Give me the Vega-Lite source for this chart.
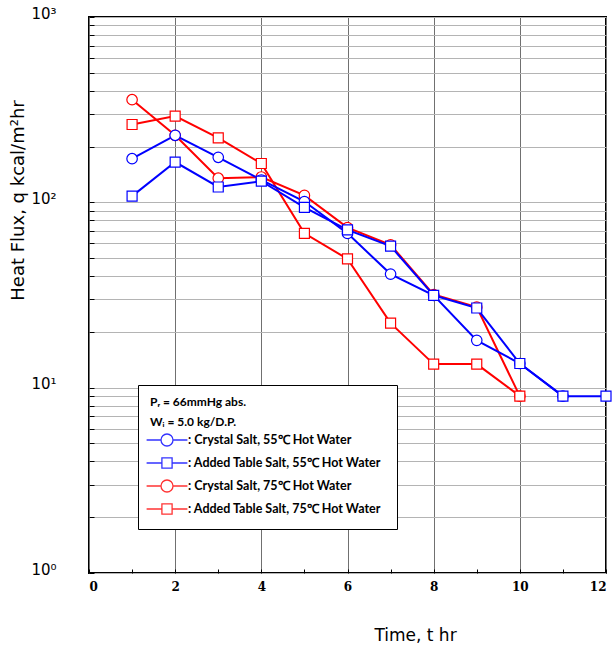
{
  "$schema": "https://vega.github.io/schema/vega-lite/v6.json",
  "width": 517,
  "height": 556,
  "autosize": {"type": "none"},
  "padding": {"left": 89, "top": 17, "right": 8, "bottom": 73},
  "background": "white",
  "config": {"view": {"stroke": "black", "strokeWidth": 2}, "font": "DejaVu Sans"},
  "data": {"values": [
    {"t": 1, "q": 358, "series": "Crystal Salt, 75℃ Hot Water"},
    {"t": 2, "q": 230, "series": "Crystal Salt, 75℃ Hot Water"},
    {"t": 3, "q": 135, "series": "Crystal Salt, 75℃ Hot Water"},
    {"t": 4, "q": 137, "series": "Crystal Salt, 75℃ Hot Water"},
    {"t": 5, "q": 109, "series": "Crystal Salt, 75℃ Hot Water"},
    {"t": 6, "q": 73, "series": "Crystal Salt, 75℃ Hot Water"},
    {"t": 7, "q": 59, "series": "Crystal Salt, 75℃ Hot Water"},
    {"t": 8, "q": 31.8, "series": "Crystal Salt, 75℃ Hot Water"},
    {"t": 9, "q": 27.2, "series": "Crystal Salt, 75℃ Hot Water"},
    {"t": 10, "q": 9, "series": "Crystal Salt, 75℃ Hot Water"},
    {"t": 1, "q": 263, "series": "Added Table Salt, 75℃ Hot Water"},
    {"t": 2, "q": 292, "series": "Added Table Salt, 75℃ Hot Water"},
    {"t": 3, "q": 223, "series": "Added Table Salt, 75℃ Hot Water"},
    {"t": 4, "q": 162, "series": "Added Table Salt, 75℃ Hot Water"},
    {"t": 5, "q": 68, "series": "Added Table Salt, 75℃ Hot Water"},
    {"t": 6, "q": 49.5, "series": "Added Table Salt, 75℃ Hot Water"},
    {"t": 7, "q": 22.3, "series": "Added Table Salt, 75℃ Hot Water"},
    {"t": 8, "q": 13.4, "series": "Added Table Salt, 75℃ Hot Water"},
    {"t": 9, "q": 13.4, "series": "Added Table Salt, 75℃ Hot Water"},
    {"t": 10, "q": 9, "series": "Added Table Salt, 75℃ Hot Water"},
    {"t": 1, "q": 172, "series": "Crystal Salt, 55℃ Hot Water"},
    {"t": 2, "q": 230, "series": "Crystal Salt, 55℃ Hot Water"},
    {"t": 3, "q": 175, "series": "Crystal Salt, 55℃ Hot Water"},
    {"t": 4, "q": 132, "series": "Crystal Salt, 55℃ Hot Water"},
    {"t": 5, "q": 101, "series": "Crystal Salt, 55℃ Hot Water"},
    {"t": 6, "q": 68, "series": "Crystal Salt, 55℃ Hot Water"},
    {"t": 7, "q": 41, "series": "Crystal Salt, 55℃ Hot Water"},
    {"t": 8, "q": 31.5, "series": "Crystal Salt, 55℃ Hot Water"},
    {"t": 9, "q": 18, "series": "Crystal Salt, 55℃ Hot Water"},
    {"t": 10, "q": 13.5, "series": "Crystal Salt, 55℃ Hot Water"},
    {"t": 11, "q": 9, "series": "Crystal Salt, 55℃ Hot Water"},
    {"t": 1, "q": 108, "series": "Added Table Salt, 55℃ Hot Water"},
    {"t": 2, "q": 165, "series": "Added Table Salt, 55℃ Hot Water"},
    {"t": 3, "q": 121, "series": "Added Table Salt, 55℃ Hot Water"},
    {"t": 4, "q": 130, "series": "Added Table Salt, 55℃ Hot Water"},
    {"t": 5, "q": 94, "series": "Added Table Salt, 55℃ Hot Water"},
    {"t": 6, "q": 71, "series": "Added Table Salt, 55℃ Hot Water"},
    {"t": 7, "q": 58, "series": "Added Table Salt, 55℃ Hot Water"},
    {"t": 8, "q": 31.5, "series": "Added Table Salt, 55℃ Hot Water"},
    {"t": 9, "q": 26.9, "series": "Added Table Salt, 55℃ Hot Water"},
    {"t": 10, "q": 13.5, "series": "Added Table Salt, 55℃ Hot Water"},
    {"t": 11, "q": 9, "series": "Added Table Salt, 55℃ Hot Water"},
    {"t": 12, "q": 9, "series": "Added Table Salt, 55℃ Hot Water"}
  ]},
  "encoding": {
    "x": {
      "field": "t", "type": "quantitative",
      "scale": {"domain": [0, 12], "nice": false},
      "axis": {
        "values": [0, 1, 2, 3, 4, 5, 6, 7, 8, 9, 10, 11, 12],
        "title": "Time, t  hr",
        "titleFont": "DejaVu Sans", "titleFontSize": 17, "titleFontWeight": "normal", "titleColor": "black",
        "titleX": 326, "titleY": 62, "titleAlign": "center", "titleBaseline": "middle",
        "labelExpr": "datum.value % 2 == 0 ? datum.label : ''",
        "labelFont": "DejaVu Serif", "labelFontWeight": "bold", "labelFontSize": 12, "labelColor": "black",
        "labelPadding": 12, "labelOverlap": false,
        "tickSize": -4, "tickColor": "black", "domain": false,
        "grid": true, "gridColor": "#707070", "gridWidth": 1,
        "gridOpacity": {"condition": {"test": "datum.value % 2 == 1", "value": 0}, "value": 1}
      }
    },
    "y": {
      "field": "q", "type": "quantitative",
      "scale": {"type": "log", "domain": [1, 1000], "nice": false},
      "axis": {
        "values": [1, 2, 3, 4, 5, 6, 7, 8, 9, 10, 20, 30, 40, 50, 60, 70, 80, 90, 100, 200, 300, 400, 500, 600, 700, 800, 900, 1000],
        "labelExpr": "datum.value == 1 ? '10⁰' : datum.value == 10 ? '10¹' : datum.value == 100 ? '10²' : datum.value == 1000 ? '10³' : ''",
        "labelFont": "DejaVu Sans", "labelFontSize": 15, "labelColor": "black",
        "labelPadding": 38, "labelOffset": -4, "labelOverlap": false,
        "tickSize": -5, "tickColor": "black", "domain": false,
        "grid": true, "gridColor": "#b4b4b4", "gridWidth": 1,
        "title": "Heat Flux, q  kcal/m²hr",
        "titleFont": "DejaVu Sans", "titleFontSize": 18, "titleFontWeight": "normal", "titleColor": "black",
        "titleX": -71, "titleY": 183, "titleAngle": -90, "titleAlign": "center", "titleBaseline": "middle"
      }
    },
    "color": {
      "field": "series", "type": "nominal",
      "scale": {"domain": ["Crystal Salt, 55℃ Hot Water", "Added Table Salt, 55℃ Hot Water", "Crystal Salt, 75℃ Hot Water", "Added Table Salt, 75℃ Hot Water"], "range": ["#0000ff", "#0000ff", "#ff0000", "#ff0000"]},
      "legend": {
        "orient": "none", "legendX": 49, "legendY": 368,
        "title": ["Pᵣ = 66mmHg abs.", "Wᵢ = 5.0 kg/D.P."],
        "titleFont": "Lato", "titleFontSize": 12, "titleFontWeight": "bold", "titleColor": "black", "titleLineHeight": 20,
        "labelFont": "Lato", "labelFontSize": 12.5, "labelFontWeight": "bold", "labelColor": "black", "labelLimit": 400,
        "labelExpr": "':  ' + datum.label",
        "fillColor": "white", "strokeColor": "black", "padding": 12,
        "symbolOffset": 10, "labelOffset": 14, "rowPadding": 6, "titlePadding": 4,
        "encoding": {"symbols": {
          "shape": {"condition": {"test": "indexof(datum.value, 'Crystal') == 0", "value": "M-3.4,0H-1M1,0H3.4M1,0A1,1,0,1,1,-1,0A1,1,0,1,1,1,0"}, "value": "M-3.4,0H-0.85M0.85,0H3.4M-0.85,-0.85H0.85V0.85H-0.85Z"},
          "size": {"value": 144},
          "fill": {"value": "white"},
          "strokeWidth": {"value": 1.3},
          "opacity": {"value": 0.8}
        }}
      }
    }
  },
  "layer": [
    {
      "mark": {"type": "line", "strokeWidth": 2},
      "encoding": {
        "order": {"field": "t", "type": "quantitative"}
      }
    },
    {
      "transform": [{"filter": "indexof(datum.series, 'Crystal') == 0"}],
      "mark": {"type": "point", "shape": "circle", "filled": false, "fill": "white", "size": 110, "strokeWidth": 1.2, "opacity": 1}
    },
    {
      "transform": [{"filter": "indexof(datum.series, 'Added') == 0"}],
      "mark": {"type": "point", "shape": "square", "filled": false, "fill": "white", "size": 100, "strokeWidth": 1.2, "opacity": 1}
    }
  ]
}
